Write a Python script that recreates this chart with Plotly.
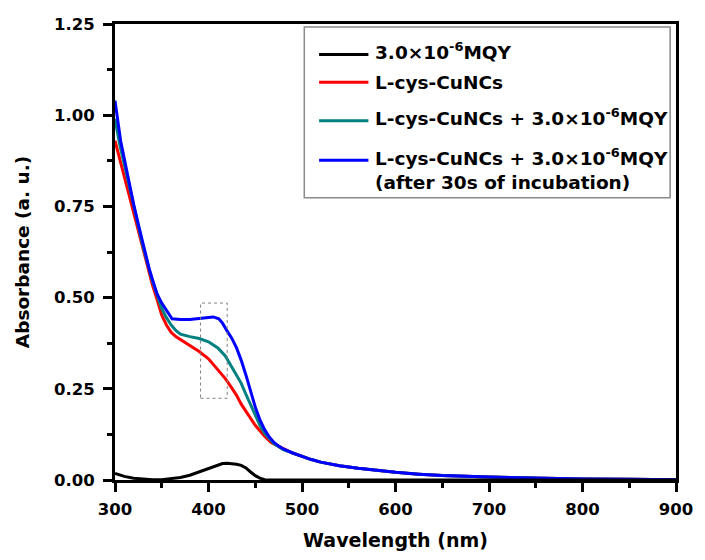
import plotly.graph_objects as go

# ---- UV-vis absorption spectra (wavelength in nm, absorbance in a.u.) ----
wl_mqy = [300, 305, 310, 320, 330, 340, 350, 360, 370, 380, 390, 400, 410, 415,
          420, 425, 430, 435, 440, 445, 450, 455, 460, 470, 500, 600, 700, 800, 900]
abs_mqy = [0.018, 0.014, 0.010, 0.005, 0.002, 0.001, 0.001, 0.003, 0.007, 0.013,
           0.022, 0.032, 0.041, 0.045, 0.046, 0.045, 0.043, 0.040, 0.033, 0.022,
           0.012, 0.005, 0.001, 0.000, 0.000, 0.000, 0.000, 0.000, 0.000]

wl_cu = [300, 305, 310, 320, 330, 340, 345, 350, 355, 360, 365, 370, 375, 380,
         390, 400, 410, 418, 425, 430, 435, 440, 445, 450, 455, 460, 467, 475,
         480, 490, 500, 510, 520, 540, 560, 580, 600, 625, 650, 700, 750, 800,
         850, 900]
abs_cu = [0.930, 0.880, 0.830, 0.730, 0.630, 0.535, 0.495, 0.452, 0.425, 0.405,
          0.393, 0.385, 0.377, 0.368, 0.352, 0.332, 0.302, 0.278, 0.252, 0.232,
          0.208, 0.188, 0.168, 0.150, 0.135, 0.120, 0.103, 0.092, 0.086, 0.074,
          0.064, 0.056, 0.049, 0.039, 0.032, 0.026, 0.021, 0.016, 0.012, 0.008,
          0.005, 0.003, 0.002, 0.001]

wl_cu_mqy = [300, 305, 310, 320, 330, 340, 345, 350, 355, 360, 365, 370, 380,
             390, 400, 410, 418, 425, 430, 435, 440, 445, 450, 455, 460, 465,
             470, 480, 490, 500, 510, 520, 540, 560, 580, 600, 625, 650, 700,
             750, 800, 850, 900]
abs_cu_mqy = [0.990, 0.920, 0.865, 0.750, 0.640, 0.545, 0.505, 0.470, 0.445,
              0.425, 0.410, 0.400, 0.393, 0.388, 0.379, 0.362, 0.340, 0.310,
              0.288, 0.265, 0.235, 0.205, 0.175, 0.150, 0.128, 0.113, 0.100,
              0.083, 0.074, 0.064, 0.056, 0.049, 0.039, 0.032, 0.026, 0.021,
              0.016, 0.012, 0.008, 0.005, 0.003, 0.002, 0.001]

wl_cu_mqy_30s = [300, 303, 306, 310, 315, 320, 325, 330, 337, 340, 345, 350, 355,
                 361, 370, 380, 390, 400, 405, 411, 415, 420, 425, 430, 435, 440,
                 445, 450, 455, 460, 465, 470, 475, 480, 490, 500, 510, 520, 540,
                 560, 580, 600, 625, 650, 700, 750, 800, 850, 900]
abs_cu_mqy_30s = [1.040, 0.980, 0.930, 0.880, 0.815, 0.755, 0.700, 0.645, 0.575,
                  0.550, 0.510, 0.485, 0.465, 0.442, 0.440, 0.440, 0.443, 0.446,
                  0.447, 0.442, 0.430, 0.408, 0.388, 0.362, 0.328, 0.288, 0.242,
                  0.200, 0.165, 0.138, 0.118, 0.103, 0.093, 0.085, 0.074, 0.064,
                  0.056, 0.049, 0.039, 0.032, 0.026, 0.021, 0.016, 0.012, 0.008,
                  0.005, 0.003, 0.002, 0.001]

series_labels = [
    "3.0×10<sup>-6</sup>MQY",
    "L-cys-CuNCs",
    "L-cys-CuNCs + 3.0×10<sup>-6</sup>MQY",
    "L-cys-CuNCs + 3.0×10<sup>-6</sup>MQY",
]
legend_note = "(after 30s of incubation)"

x_ticks = [300, 400, 500, 600, 700, 800, 900]
y_ticks = [0.00, 0.25, 0.50, 0.75, 1.00, 1.25]

# zoom window drawn around the MQY band region
box_wl = [391.5, 420]
box_abs = [0.224, 0.485]

colors = ["#000000", "#ff0000", "#008080", "#0000ff"]
FONT = "DejaVu Sans"

fig = go.Figure()
data = [(wl_mqy, abs_mqy), (wl_cu, abs_cu), (wl_cu_mqy, abs_cu_mqy),
        (wl_cu_mqy_30s, abs_cu_mqy_30s)]
# draw order: red, teal, blue, then black on top near the baseline
for i in [1, 2, 3, 0]:
    xs, ys = data[i]
    fig.add_trace(go.Scatter(x=xs, y=ys, mode="lines", showlegend=False,
                             line=dict(color=colors[i], width=3)))

fig.add_shape(type="rect", xref="x", yref="y", x0=box_wl[0], x1=box_wl[1],
              y0=box_abs[0], y1=box_abs[1],
              line=dict(color="#808080", width=1, dash="dot"))

# hand-built legend box
fig.add_shape(type="rect", xref="paper", yref="paper", x0=0.3374, x1=0.9895,
              y0=0.619, y1=0.9935, line=dict(color="#8a8a8a", width=1.5),
              fillcolor="white", layer="above")
row_y = [0.9329, 0.8723, 0.7879, 0.7013]
text_y = [0.9410, 0.8723, 0.7960, 0.7094]
for i in range(4):
    fig.add_shape(type="line", xref="paper", yref="paper", x0=0.3638, x1=0.4517,
                  y0=row_y[i], y1=row_y[i], line=dict(color=colors[i], width=3))
    fig.add_annotation(xref="paper", yref="paper", x=0.4605, y=text_y[i],
                       xanchor="left", yanchor="middle", showarrow=False,
                       text=series_labels[i],
                       font=dict(family=FONT, size=18.5, color="black",
                                 weight="bold"))
fig.add_annotation(xref="paper", yref="paper", x=0.4605, y=0.6515,
                   xanchor="left", yanchor="middle", showarrow=False,
                   text=legend_note,
                   font=dict(family=FONT, size=18.5, color="black", weight="bold"))

axis_common = dict(
    showgrid=False, zeroline=False, showline=True, linecolor="black",
    linewidth=3, mirror=True, ticks="outside", ticklen=9, tickwidth=3,
    tickcolor="black", ticklabeloverflow="allow",
    tickfont=dict(family=FONT, size=16.5, color="black", weight="bold"),
)
fig.update_xaxes(range=[300, 900], tickvals=x_ticks,
                 ticktext=[str(v) for v in x_ticks], ticklabelstandoff=3,
                 minor=dict(dtick=50, ticks="outside", ticklen=5, tickwidth=3,
                            tickcolor="black"),
                 title=dict(text="Wavelength (nm)", standoff=16,
                            font=dict(family=FONT, size=19, color="black",
                                      weight="bold")),
                 **axis_common)
fig.update_yaxes(range=[0, 1.25], tickvals=y_ticks,
                 ticktext=[f"{v:.2f}" for v in y_ticks], ticklabelstandoff=5,
                 minor=dict(dtick=0.125, ticks="outside", ticklen=5, tickwidth=3,
                            tickcolor="black"),
                 title=dict(text="Absorbance (a. u.)", standoff=20,
                            font=dict(family=FONT, size=18.5, color="black",
                                      weight="bold")),
                 **axis_common)

fig.update_layout(width=705, height=560, plot_bgcolor="white",
                  paper_bgcolor="white",
                  margin=dict(l=115, r=21, t=24, b=74))
fig.write_html("out.html")
